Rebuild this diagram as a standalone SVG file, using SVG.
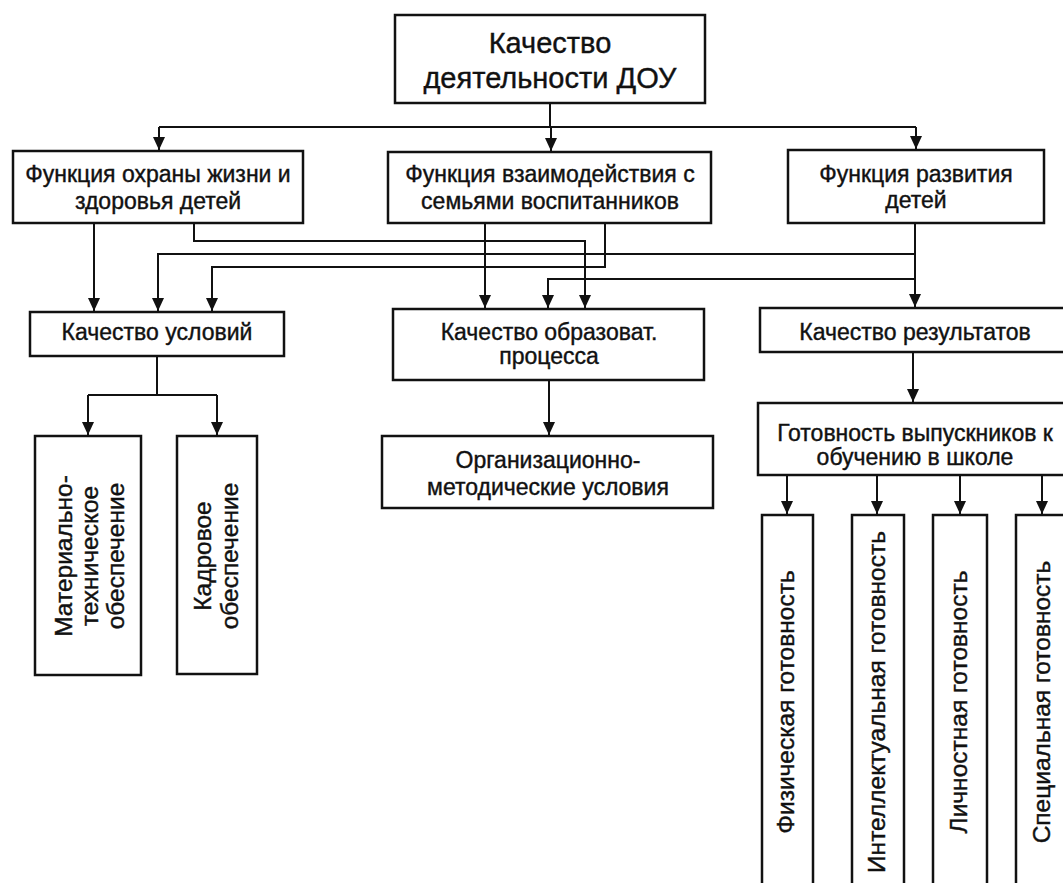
<svg xmlns="http://www.w3.org/2000/svg" width="1063" height="883" viewBox="0 0 1063 883">
<style>
.box{fill:#fff;stroke:#111;stroke-width:2.5}
.t{font-family:"Liberation Sans",Arial,sans-serif;font-size:23px;fill:#111;stroke:#111;stroke-width:0.4;text-anchor:middle}
.big{font-size:29px}
.v{font-size:24.5px}
.ln{fill:none;stroke:#111;stroke-width:2}
</style>
<defs>
<marker id="ah" markerUnits="userSpaceOnUse" markerWidth="14" markerHeight="12" refX="13" refY="6" orient="auto">
<path d="M0,0 L13,6 L0,12 z" fill="#111"/>
</marker>
</defs>
<rect width="1063" height="883" fill="#fff"/>
<g id="connectors">
<path class="ln" d="M550,103 V127 M159,127 H916"/>
<path class="ln" d="M159,127 V150" marker-end="url(#ah)"/>
<path class="ln" d="M551,127 V151" marker-end="url(#ah)"/>
<path class="ln" d="M916,127 V149" marker-end="url(#ah)"/>
<path class="ln" d="M94,223 V311" marker-end="url(#ah)"/>
<path class="ln" d="M194,223 V241 H585 V308" marker-end="url(#ah)"/>
<path class="ln" d="M915,223 V307" marker-end="url(#ah)"/>
<path class="ln" d="M915,254 H158 V311" marker-end="url(#ah)"/>
<path class="ln" d="M605,223 V267 H212 V311" marker-end="url(#ah)"/>
<path class="ln" d="M915,279 H548 V308" marker-end="url(#ah)"/>
<path class="ln" d="M485,223 V308" marker-end="url(#ah)"/>
<path class="ln" d="M157,356 V395 M88,395 H217"/>
<path class="ln" d="M88,395 V435" marker-end="url(#ah)"/>
<path class="ln" d="M217,395 V435" marker-end="url(#ah)"/>
<path class="ln" d="M549,380 V435" marker-end="url(#ah)"/>
<path class="ln" d="M913,352 V402" marker-end="url(#ah)"/>
<path class="ln" d="M787,475 V514" marker-end="url(#ah)"/>
<path class="ln" d="M877,475 V514" marker-end="url(#ah)"/>
<path class="ln" d="M960,475 V514" marker-end="url(#ah)"/>
<path class="ln" d="M1042,475 V514" marker-end="url(#ah)"/>
</g>
<g id="n-top">
<rect class="box" x="395" y="15" width="310" height="88"/>
<text class="t big" x="550" y="53">Качество</text>
<text class="t big" x="550" y="88">деятельности ДОУ</text>
</g>
<g id="n-f1">
<rect class="box" x="13" y="151" width="290" height="72"/>
<text class="t" x="158" y="182">Функция охраны жизни и</text>
<text class="t" x="158" y="209">здоровья детей</text>
</g>
<g id="n-f2">
<rect class="box" x="388" y="152" width="323" height="71"/>
<text class="t" x="550" y="182">Функция взаимодействия с</text>
<text class="t" x="550" y="209">семьями воспитанников</text>
</g>
<g id="n-f3">
<rect class="box" x="788" y="150" width="256" height="73"/>
<text class="t" x="916" y="182">Функция развития</text>
<text class="t" x="916" y="208">детей</text>
</g>
<g id="n-q1">
<rect class="box" x="30" y="312" width="254" height="44"/>
<text class="t" x="157" y="340">Качество условий</text>
</g>
<g id="n-q2">
<rect class="box" x="393" y="309" width="311" height="71"/>
<text class="t" x="549" y="340">Качество образоват.</text>
<text class="t" x="549" y="364">процесса</text>
</g>
<g id="n-q3">
<rect class="box" x="760" y="308" width="310" height="44"/>
<text class="t" x="915" y="340">Качество результатов</text>
</g>
<g id="n-mt">
<rect class="box" x="35" y="436" width="106" height="239"/>
<g transform="translate(0,556) rotate(-90)">
<text class="t v" x="0" y="72">Материально-</text>
<text class="t v" x="0" y="98">техническое</text>
<text class="t v" x="0" y="124">обеспечение</text>
</g>
</g>
<g id="n-kadr">
<rect class="box" x="177" y="436" width="80" height="238"/>
<g transform="translate(0,556) rotate(-90)">
<text class="t v" x="0" y="211">Кадровое</text>
<text class="t v" x="0" y="238">обеспечение</text>
</g>
</g>
<g id="n-org">
<rect class="box" x="382" y="436" width="331" height="72"/>
<text class="t" x="548" y="468">Организационно-</text>
<text class="t" x="548" y="495">методические условия</text>
</g>
<g id="n-gotov">
<rect class="box" x="758" y="403" width="312" height="72"/>
<text class="t" x="915" y="441">Готовность выпускников к</text>
<text class="t" x="915" y="465">обучению в школе</text>
</g>
<g id="n-fiz">
<rect class="box" x="762" y="515" width="51" height="390"/>
<text class="t v" transform="translate(794,702) rotate(-90)">Физическая готовность</text>
</g>
<g id="n-int">
<rect class="box" x="852" y="515" width="52" height="390"/>
<text class="t v" transform="translate(885,702) rotate(-90)">Интеллектуальная готовность</text>
</g>
<g id="n-lich">
<rect class="box" x="933" y="515" width="54" height="390"/>
<text class="t v" transform="translate(967,702) rotate(-90)">Личностная готовность</text>
</g>
<g id="n-spec">
<rect class="box" x="1016" y="515" width="60" height="390"/>
<text class="t v" transform="translate(1050,702) rotate(-90)">Специальная готовность</text>
</g>
</svg>
